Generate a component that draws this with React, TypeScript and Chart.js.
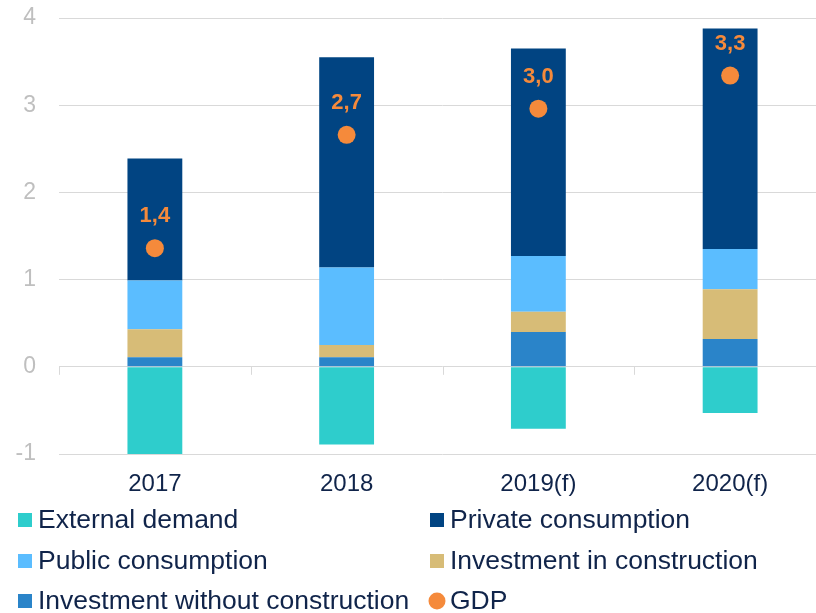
import React, { useEffect, useRef } from "react";
import { Chart, registerables } from "chart.js";

Chart.register(...registerables);

// ---- data ----
const categories = ["2017", "2018", "2019(f)", "2020(f)"];
const externalDemand = [-1.02, -0.89, -0.71, -0.53];
const investmentWithoutConstruction = [0.11, 0.11, 0.4, 0.32];
const investmentInConstruction = [0.32, 0.14, 0.23, 0.57];
const publicConsumption = [0.56, 0.89, 0.64, 0.46];
const privateConsumption = [1.4, 2.41, 2.38, 2.53];
const gdp = [1.36, 2.66, 2.96, 3.34];
const yMin = -1;
const yMax = 4;
const yStep = 1;

// ---- styles ----
const C_EXT = "#2ecdcc";
const C_IWC = "#2a84c9";
const C_IC = "#d7bc77";
const C_PUB = "#5bbdff";
const C_PRIV = "#014482";
const C_GDP = "#f58a3b";
const TEXT = "#10244a";
const FONT = "'Liberation Sans', Arial, sans-serif";

export default function App() {
  const ref = useRef<HTMLCanvasElement>(null);

  useEffect(() => {
    const canvas = ref.current!;

    const zeroTicks = {
      id: "zeroTicks",
      beforeDatasetsDraw(chart: any) {
        const x = chart.scales.x;
        const y = chart.scales.y;
        const ctx = chart.ctx;
        const y0 = y.getPixelForValue(0);
        const n = chart.data.labels.length;
        const step = n > 1 ? x.getPixelForValue(1) - x.getPixelForValue(0) : x.width;
        ctx.save();
        ctx.strokeStyle = "#d9d9d9";
        ctx.lineWidth = 1;
        for (let i = 0; i <= n; i++) {
          const px = Math.round(x.getPixelForValue(0) - step / 2 + i * step) + 0.5;
          ctx.beginPath();
          ctx.moveTo(px, y0);
          ctx.lineTo(px, y0 + 8);
          ctx.stroke();
        }
        ctx.restore();
      },
    };

    const gdpLabels = {
      id: "gdpLabels",
      afterDatasetsDraw(chart: any) {
        const ctx = chart.ctx;
        const meta = chart.getDatasetMeta(0);
        const ds = chart.data.datasets[0];
        ctx.save();
        ctx.fillStyle = C_GDP;
        ctx.font = `bold 22px ${FONT}`;
        ctx.textAlign = "center";
        ctx.textBaseline = "middle";
        meta.data.forEach((pt: any, i: number) => {
          const txt = Number(ds.data[i]).toFixed(1).replace(".", ",");
          ctx.fillText(txt, pt.x, pt.y - 32);
        });
        ctx.restore();
      },
    };

    const customLegend = {
      id: "customLegend",
      afterDraw(chart: any) {
        const ctx = chart.ctx;
        const order = [1, 5, 4, 3, 2, 0];
        const colX = [18, 430];
        const rowY = [520, 561, 601];
        ctx.save();
        ctx.font = `26.5px ${FONT}`;
        ctx.textBaseline = "middle";
        ctx.textAlign = "left";
        order.forEach((di, k) => {
          const ds = chart.data.datasets[di];
          const cx = colX[k % 2];
          const cy = rowY[Math.floor(k / 2)];
          ctx.fillStyle = ds.backgroundColor;
          if (ds.type === "line") {
            ctx.beginPath();
            ctx.arc(cx + 7, cy, 8.5, 0, Math.PI * 2);
            ctx.fill();
          } else {
            ctx.fillRect(cx, cy - 7, 14, 14);
          }
          ctx.fillStyle = TEXT;
          ctx.fillText(ds.label, cx + 20, cy + 1);
        });
        ctx.restore();
      },
    };

    const chart = new Chart(canvas, {
      type: "bar",
      data: {
        labels: categories,
        datasets: [
          {
            type: "line",
            label: "GDP",
            data: gdp,
            showLine: false,
            pointRadius: 9,
            pointHoverRadius: 9,
            pointBorderWidth: 0,
            pointBackgroundColor: C_GDP,
            borderColor: C_GDP,
            backgroundColor: C_GDP,
            order: 0,
            stack: "gdp",
          } as any,
          { label: "External demand", data: externalDemand, backgroundColor: C_EXT, order: 1, stack: "s" },
          { label: "Investment without construction", data: investmentWithoutConstruction, backgroundColor: C_IWC, order: 1, stack: "s" },
          { label: "Investment in construction", data: investmentInConstruction, backgroundColor: C_IC, order: 1, stack: "s" },
          { label: "Public consumption", data: publicConsumption, backgroundColor: C_PUB, order: 1, stack: "s" },
          { label: "Private consumption", data: privateConsumption, backgroundColor: C_PRIV, order: 1, stack: "s" },
        ],
      },
      options: {
        responsive: false,
        animation: false,
        devicePixelRatio: 1,
        layout: { padding: { top: 18, left: 0, right: 3, bottom: 0 } },
        datasets: { bar: { barPercentage: 0.286, categoryPercentage: 1 } },
        plugins: { legend: { display: false }, tooltip: { enabled: false } },
        scales: {
          x: {
            stacked: true,
            grid: { display: false },
            border: { display: false },
            ticks: { color: TEXT, font: { family: FONT, size: 24 }, padding: 8, maxRotation: 0, autoSkip: false },
            afterFit: (s: any) => {
              s.height = 159;
              s.paddingLeft = 0;
              s.paddingRight = 0;
            },
          },
          y: {
            stacked: true,
            min: yMin,
            max: yMax,
            ticks: {
              stepSize: yStep,
              color: "#bfbfbf",
              font: { family: FONT, size: 23 },
              padding: 23,
              callback: (v: any) => String(v),
            },
            grid: { color: "#d9d9d9", drawTicks: false, lineWidth: 1 },
            border: { display: false },
            afterFit: (s: any) => {
              s.width = 59;
              s.paddingTop = 0;
              s.paddingBottom = 0;
            },
          },
        },
      },
      plugins: [zeroTicks, gdpLabels, customLegend],
    });
    return () => chart.destroy();
  }, []);

  return (
    <div
      style={{
        position: "fixed",
        left: 0,
        top: 0,
        width: 816,
        height: 613,
        overflow: "hidden",
        background: "#fff",
      }}
    >
      <canvas ref={ref} width={835} height={613} style={{ display: "block" }} />
    </div>
  );
}
